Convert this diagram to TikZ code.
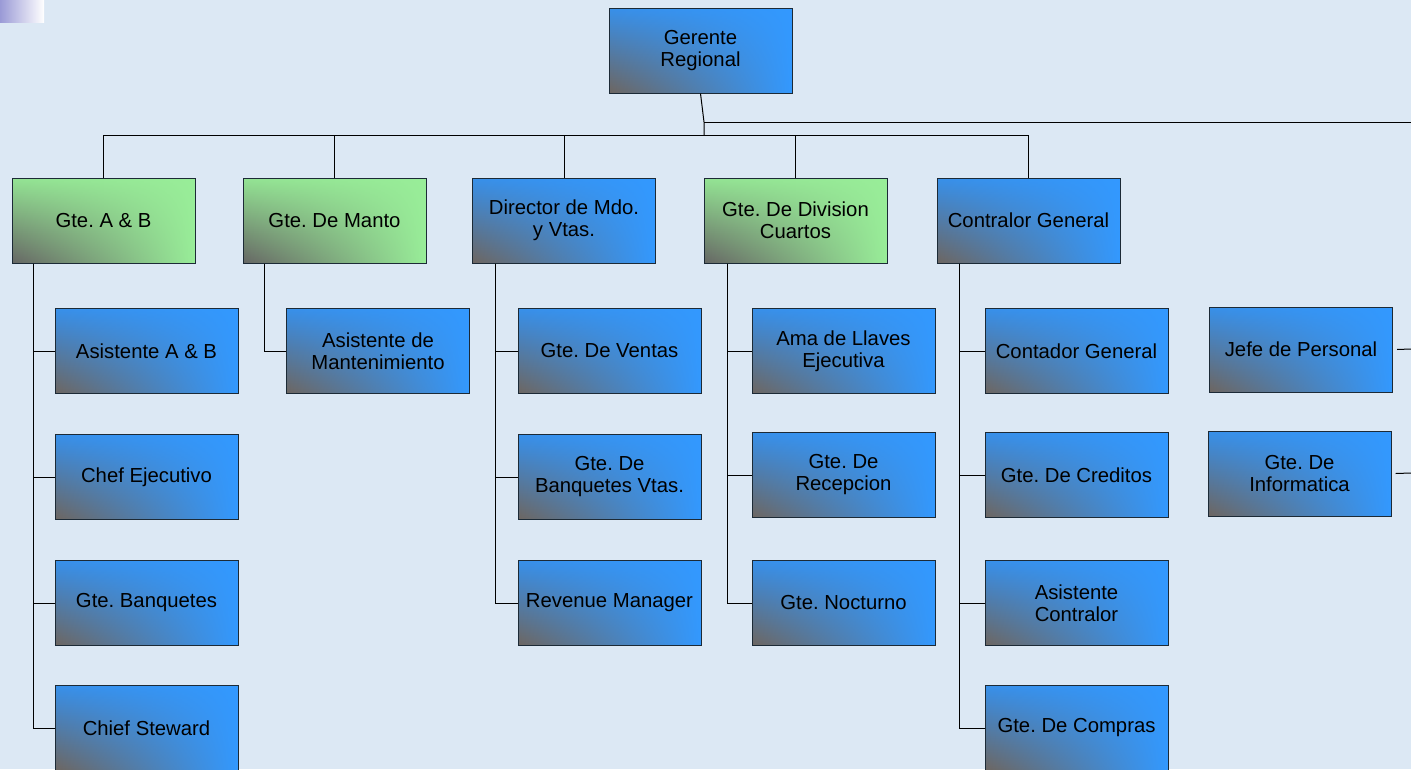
\documentclass[tikz,border=0pt]{standalone}
\usepackage{fontspec}
\setmainfont{Liberation Sans}
\usetikzlibrary{fadings}
\frenchspacing
\definecolor{bgcol}{HTML}{DCE8F4}
\definecolor{bdark}{HTML}{6E6660}
\definecolor{bmid}{HTML}{4A7AAE}
\definecolor{btop}{HTML}{3890EA}
\definecolor{bblue}{HTML}{3399FF}
\definecolor{gdark}{HTML}{666664}
\definecolor{gmid}{HTML}{7CAE7C}
\definecolor{gtop}{HTML}{94E494}
\definecolor{glight}{HTML}{99EE99}
\definecolor{boxline}{HTML}{1C2A36}
\definecolor{sqleft}{HTML}{9A9AD6}
\tikzfading[name=fadeleft, left color=transparent!0, middle color=transparent!50, right color=transparent!100]
\tikzset{
  orgbox/.style={draw=boxline, line width=1pt, fill=bblue,
    path picture={\shade[top color=btop, middle color=bmid, bottom color=bdark, path fading=fadeleft]
      (path picture bounding box.south west) rectangle (path picture bounding box.north east);},
    minimum width=183pt, minimum height=85pt, inner sep=0pt, align=center,
    font=\fontsize{20.3}{22}\selectfont},
  greenbox/.style={draw=boxline, line width=1pt, fill=glight,
    path picture={\shade[top color=gtop, middle color=gmid, bottom color=gdark, path fading=fadeleft]
      (path picture bounding box.south west) rectangle (path picture bounding box.north east);},
    minimum width=183pt, minimum height=85pt, inner sep=0pt, align=center,
    font=\fontsize{20.3}{22}\selectfont},
  link/.style={draw=black, line width=1pt}
}
\begin{document}
\begin{tikzpicture}[x=1pt,y=-1pt]
\useasboundingbox (0,0) rectangle (1411,769);
\fill[bgcol] (0,0) rectangle (1411,769);
\shade[left color=sqleft, right color=white] (0,0) rectangle (44,22);

% top
\node[orgbox] (gr) at (700.5,50.5) {Gerente\\Regional};
% level 2
\node[greenbox] (ab) at (103.5,220.5) {Gte. A \& B};
\node[greenbox] (mt) at (334.5,220.5) {Gte. De Manto};
\node[orgbox] (dm) at (564,220.5) {Director de Mdo.\\y Vtas.};
\node[greenbox] (dc) at (795.5,220.5) {Gte. De Division\\Cuartos};
\node[orgbox] (cg) at (1028.5,220.5) {Contralor General};

% children
\node[orgbox] (ab1) at (146.5,351) {Asistente A \& B};
\node[orgbox] (ab2) at (146.5,477) {Chef Ejecutivo};
\node[orgbox] (ab3) at (146.5,603) {Gte. Banquetes};
\node[orgbox] (ab4) at (146.5,728) {Chief Steward};

\node[orgbox] (mt1) at (378,351) {Asistente de\\Mantenimiento};

\node[orgbox] (dm1) at (609.5,351) {Gte. De Ventas};
\node[orgbox] (dm2) at (609.5,477) {Gte. De\\Banquetes Vtas.};
\node[orgbox] (dm3) at (609.5,603) {Revenue Manager};

\node[orgbox] (dc1) at (843.5,351) {Ama de Llaves\\Ejecutiva};
\node[orgbox] (dc2) at (843.5,475) {Gte. De\\Recepcion};
\node[orgbox] (dc3) at (843.5,603) {Gte. Nocturno};

\node[orgbox] (cg1) at (1076.5,351) {Contador General};
\node[orgbox] (cg2) at (1076.5,475) {Gte. De Creditos};
\node[orgbox] (cg3) at (1076.5,603) {Asistente\\Contralor};
\node[orgbox] (cg4) at (1076.5,728) {Gte. De Compras};

\node[orgbox] (jp) at (1301,349.5) {Jefe de Personal};
\node[orgbox] (gi) at (1299.5,473.5) {Gte. De\\Informatica};

% connectors top
\coordinate (j1) at (704,122);
\coordinate (hub) at (704,135);
\coordinate (rt) at (1411,122);
\draw[link] (gr.south) -- (j1) -- (hub);
\draw[link] (j1) -- (rt);
\foreach \n in {ab,mt,dm,dc,cg}{
  \draw[link] (\n.north) |- (hub);
}

% group connectors
\foreach \p/\off/\kids in {ab/70.5/{ab1,ab2,ab3,ab4}, mt/70.5/{mt1}, dm/69/{dm1,dm2,dm3}, dc/68.5/{dc1,dc2,dc3}, cg/69.5/{cg1,cg2,cg3,cg4}}{
  \foreach \k in \kids {
    \draw[link] ([xshift=-\off pt]\p.south) |- (\k.west);
  }
}

% right side
\coordinate (jpr) at (1411,349);
\coordinate (gir) at (1411,473);
\draw[link] ([xshift=4pt]jp.east) -- (jpr);
\draw[link] ([xshift=4pt]gi.east) -- (gir);
\end{tikzpicture}
\end{document}
